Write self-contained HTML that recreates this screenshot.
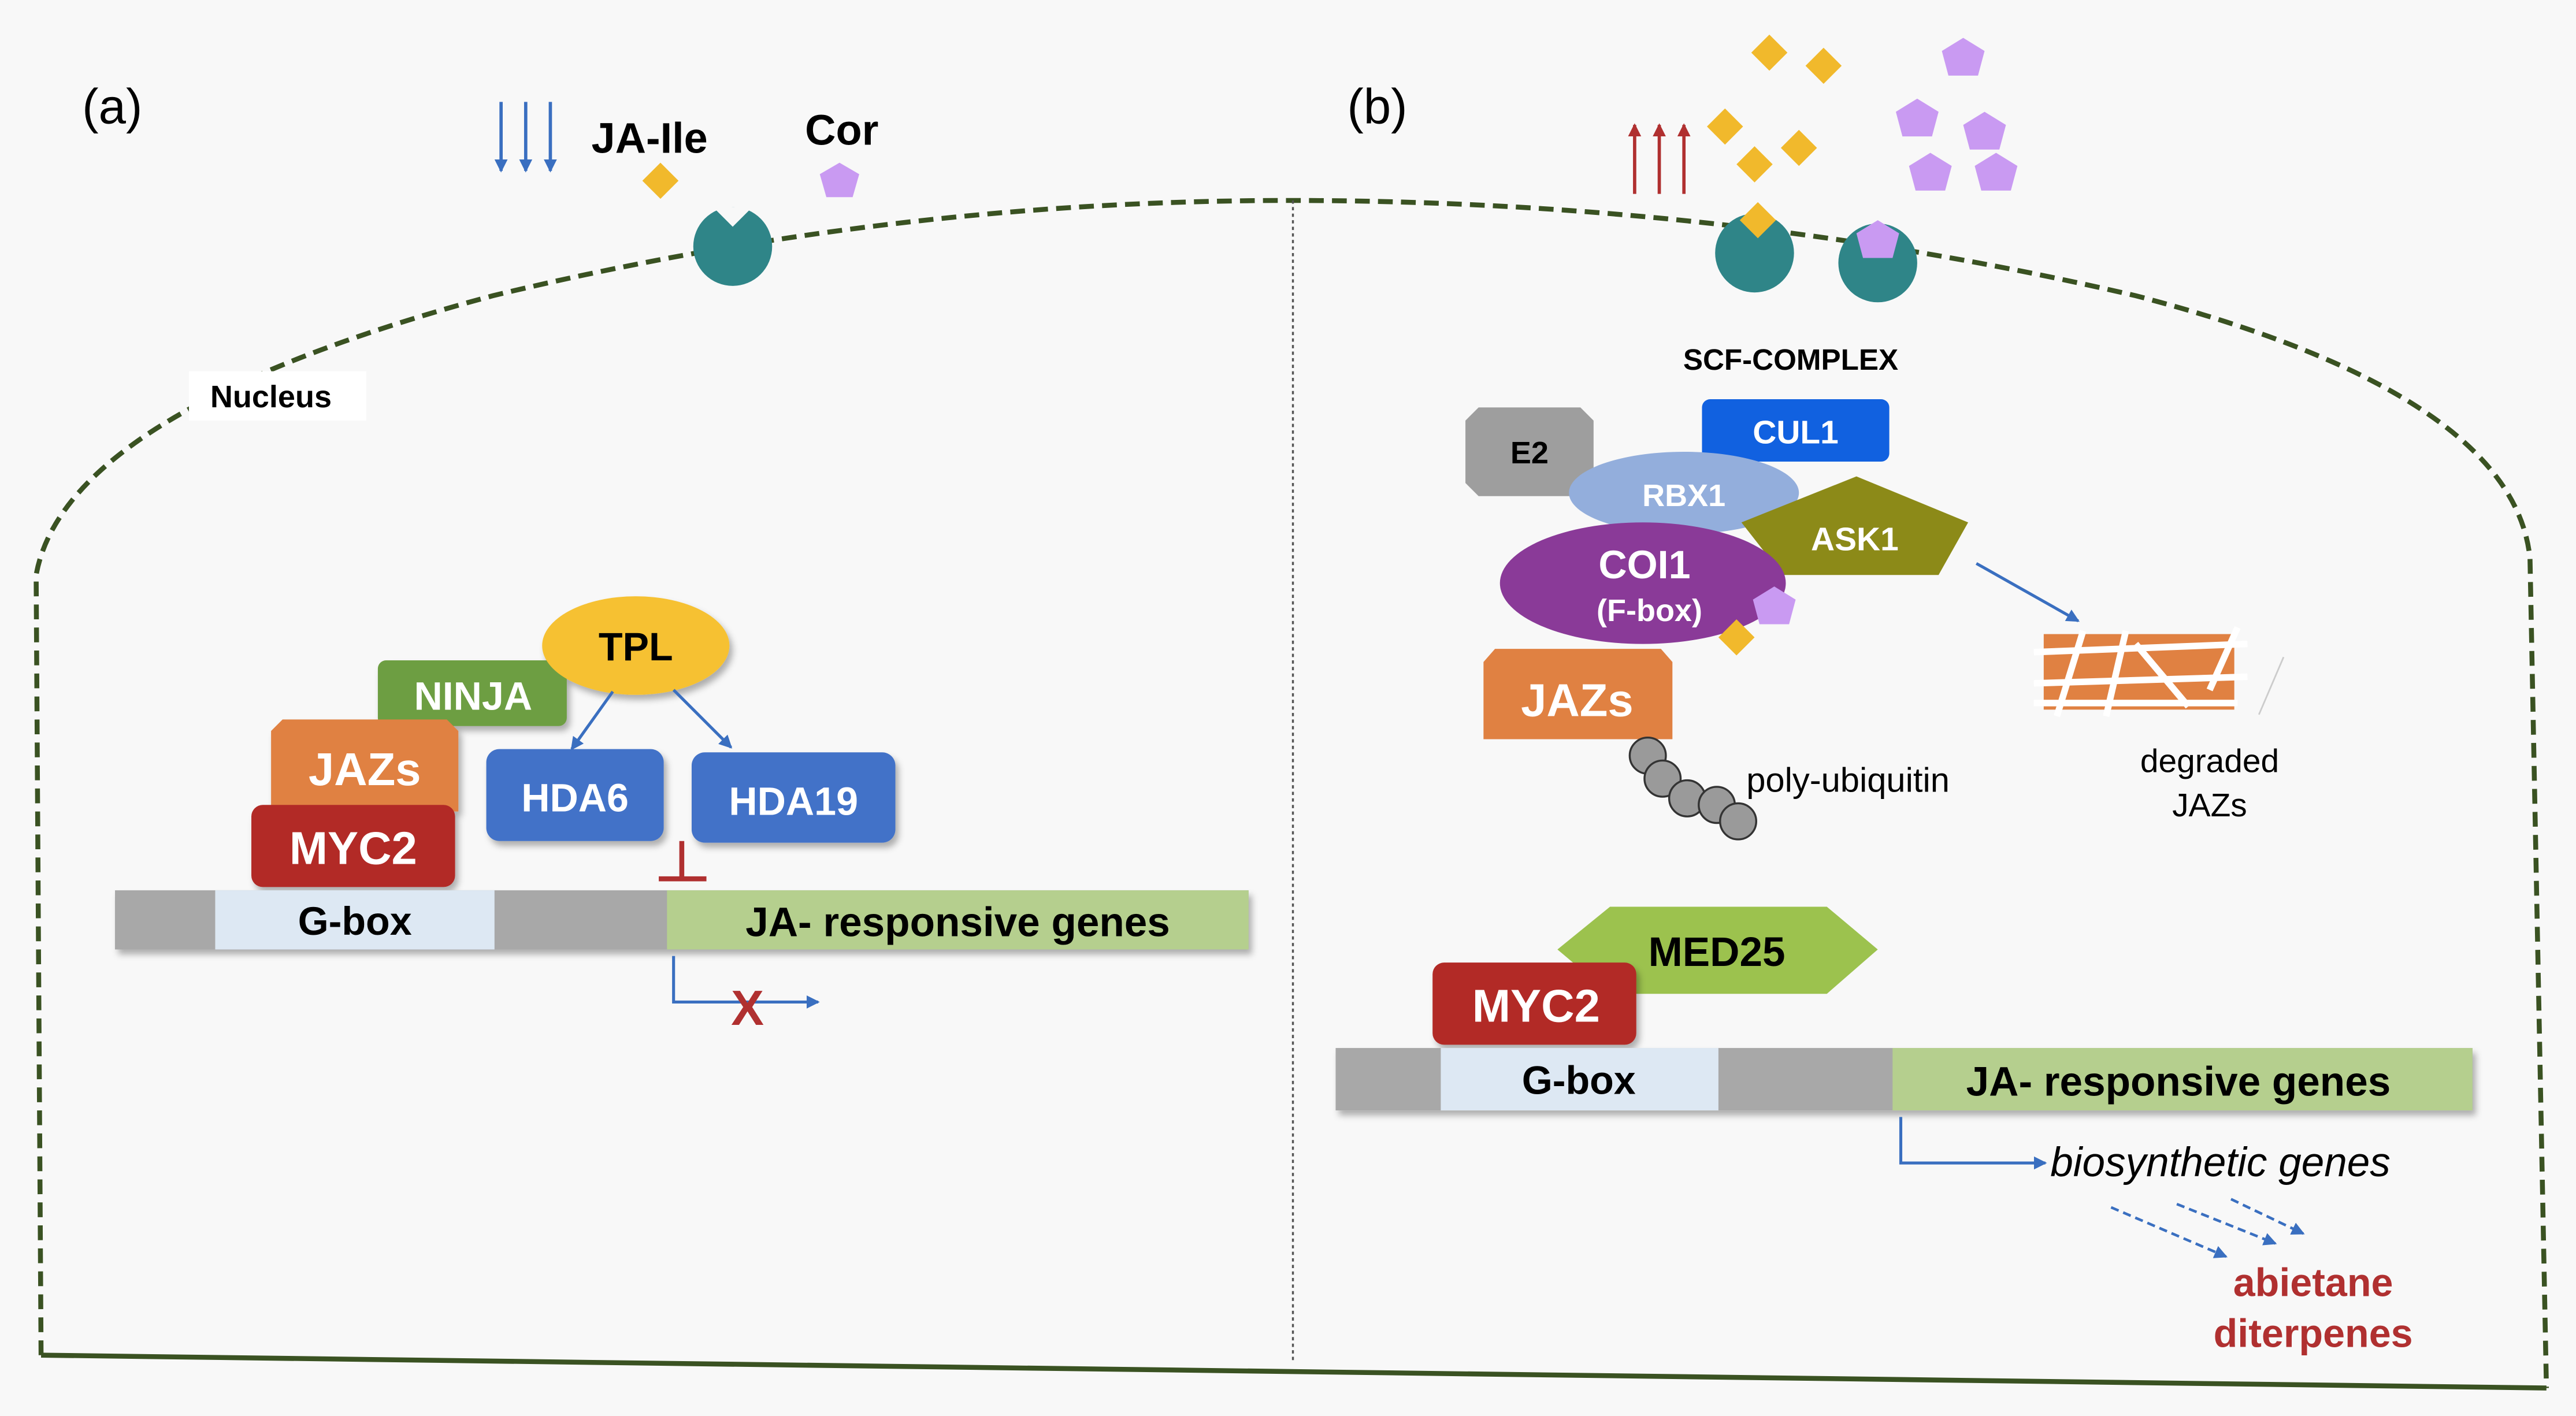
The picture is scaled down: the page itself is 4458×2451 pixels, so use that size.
<!DOCTYPE html>
<html><head><meta charset="utf-8"><style>html,body{margin:0;padding:0;background:#fff}svg{display:block}text{font-family:"Liberation Sans",Arial,sans-serif}</style></head><body>
<svg width="4458" height="2451" viewBox="0 0 1568 862" xmlns="http://www.w3.org/2000/svg">
<defs>
<marker id="ab" markerWidth="8" markerHeight="8" refX="7" refY="4" orient="auto" markerUnits="userSpaceOnUse"><path d="M0,0 L8,4 L0,8 z" fill="#3a6fc0"/></marker>
<marker id="ar" markerWidth="8" markerHeight="8" refX="7" refY="4" orient="auto" markerUnits="userSpaceOnUse"><path d="M0,0 L8,4 L0,8 z" fill="#b03030"/></marker>
<filter id="sh" x="-10%" y="-10%" width="130%" height="140%"><feDropShadow dx="2" dy="3" stdDeviation="2" flood-opacity="0.3"/></filter>
</defs>
<rect width="1568" height="862" fill="#f8f8f8"/>
<path d="M25,825 L22,350 Q40,250 300,180 Q540,122 785,122 Q1050,122 1300,180 Q1530,240 1540,340 L1550,845" fill="none" stroke="#3a5222" stroke-width="3" stroke-dasharray="9,5"/>
<line x1="25" y1="825" x2="1550" y2="845" stroke="#3a5222" stroke-width="3"/>
<line x1="787" y1="122" x2="787" y2="830" stroke="#555" stroke-width="1.2" stroke-dasharray="2,2"/>
<text x="50" y="75" font-size="30">(a)</text>
<text x="820" y="75" font-size="30">(b)</text>
<g stroke="#3a6fc0" stroke-width="2" marker-end="url(#ab)"><line x1="305" y1="62" x2="305" y2="104"/><line x1="320" y1="62" x2="320" y2="104"/><line x1="335" y1="62" x2="335" y2="104"/></g>
<text x="360" y="93" font-size="26" font-weight="bold">JA-Ile</text>
<text x="490" y="88" font-size="26" font-weight="bold">Cor</text>
<path d="M402,99 L413,110 L402,121 L391,110z" fill="#f1b92c"/>
<path d="M511,99 L523,106 L519,120 L503,120 L499,106z" fill="#c99af2"/>
<circle cx="446" cy="150" r="24" fill="#2f8588"/>
<path d="M434,126 L446,138 L458,126z" fill="#f8f8f8"/>
<rect x="115" y="226" width="108" height="30" fill="#fff"/>
<text x="128" y="248" font-size="19" font-weight="bold">Nucleus</text>
<g filter="url(#sh)">
<rect x="230" y="402" width="115" height="40" rx="5" fill="#6d9e42"/>
<path d="M172,438 L272,438 L279,445 L279,494 L165,494 L165,445z" fill="#e08142"/>
<rect x="153" y="490" width="124" height="50" rx="7" fill="#b22a26"/>
<rect x="296" y="456" width="108" height="56" rx="8" fill="#4272c8"/>
<rect x="421" y="458" width="124" height="55" rx="8" fill="#4272c8"/>
<ellipse cx="387" cy="393" rx="57" ry="30" fill="#f6c132"/>
</g>
<text x="288" y="432" font-size="24" font-weight="bold" fill="#fff" text-anchor="middle">NINJA</text>
<text x="222" y="478" font-size="28" font-weight="bold" fill="#fff" text-anchor="middle">JAZs</text>
<text x="215" y="526" font-size="28" font-weight="bold" fill="#fff" text-anchor="middle">MYC2</text>
<text x="350" y="494" font-size="24" font-weight="bold" fill="#fff" text-anchor="middle">HDA6</text>
<text x="483" y="496" font-size="24" font-weight="bold" fill="#fff" text-anchor="middle">HDA19</text>
<text x="387" y="402" font-size="24" font-weight="bold" text-anchor="middle">TPL</text>
<g stroke="#3a6fc0" stroke-width="1.8" marker-end="url(#ab)"><line x1="373" y1="421" x2="348" y2="456"/><line x1="410" y1="420" x2="445" y2="455"/></g>
<line x1="415" y1="512" x2="415" y2="534" stroke="#b03030" stroke-width="3"/>
<line x1="401" y1="535" x2="430" y2="535" stroke="#b03030" stroke-width="3"/>
<g filter="url(#sh)"><rect x="70" y="542" width="690" height="36" fill="#a8a8a8"/></g>
<rect x="131" y="542" width="170" height="36" fill="#dde8f3"/>
<rect x="406" y="542" width="354" height="36" fill="#b5cf8e"/>
<text x="216" y="569" font-size="24" font-weight="bold" text-anchor="middle">G-box</text>
<text x="583" y="570" font-size="25" font-weight="bold" text-anchor="middle">JA- responsive genes</text>
<path d="M410,582 L410,610 L498,610" fill="none" stroke="#3a6fc0" stroke-width="1.8" marker-end="url(#ab)"/>
<text x="455" y="624" font-size="30" font-weight="bold" fill="#b03030" text-anchor="middle">X</text>
<g stroke="#b03030" stroke-width="2" marker-end="url(#ar)"><line x1="995" y1="118" x2="995" y2="76"/><line x1="1010" y1="118" x2="1010" y2="76"/><line x1="1025" y1="118" x2="1025" y2="76"/></g>
<g fill="#f1b92c">
<path d="M1077,21 L1088,32 L1077,43 L1066,32z"/><path d="M1110,29 L1121,40 L1110,51 L1099,40z"/><path d="M1050,66 L1061,77 L1050,88 L1039,77z"/><path d="M1095,79 L1106,90 L1095,101 L1084,90z"/><path d="M1068,89 L1079,100 L1068,111 L1057,100z"/>
</g>
<g fill="#c99af2">
<path d="M1195,23 L1208,31 L1204,46 L1186,46 L1182,31z"/><path d="M1167,60 L1180,68 L1176,83 L1158,83 L1154,68z"/><path d="M1208,68 L1221,76 L1217,91 L1199,91 L1195,76z"/><path d="M1175,93 L1188,101 L1184,116 L1166,116 L1162,101z"/><path d="M1215,93 L1228,101 L1224,116 L1206,116 L1202,101z"/>
</g>
<circle cx="1068" cy="154" r="24" fill="#2f8588"/>
<circle cx="1143" cy="160" r="24" fill="#2f8588"/>
<path d="M1070,123 L1081,134 L1070,145 L1059,134z" fill="#f1b92c"/>
<path d="M1143,134 L1156,142 L1152,157 L1134,157 L1130,142z" fill="#c99af2"/>
<text x="1090" y="225" font-size="18" font-weight="bold" text-anchor="middle">SCF-COMPLEX</text>
<path d="M900,248 L962,248 L970,256 L970,294 L962,302 L900,302 L892,294 L892,256z" fill="#9e9e9e"/>
<text x="931" y="282" font-size="19" font-weight="bold" text-anchor="middle">E2</text>
<rect x="1036" y="243" width="114" height="38" rx="5" fill="#1161e0"/>
<text x="1093" y="270" font-size="20" font-weight="bold" fill="#fff" text-anchor="middle">CUL1</text>
<ellipse cx="1025" cy="300" rx="70" ry="25" fill="#93aedc"/>
<text x="1025" y="308" font-size="19" font-weight="bold" fill="#fff" text-anchor="middle">RBX1</text>
<path d="M1130,290 L1198,318 L1180,350 L1085,350 L1060,318z" fill="#8c8a18"/>
<text x="1129" y="335" font-size="20" font-weight="bold" fill="#fff" text-anchor="middle">ASK1</text>
<ellipse cx="1000" cy="355" rx="87" ry="37" fill="#8a3a98"/>
<text x="1001" y="352" font-size="24" font-weight="bold" fill="#fff" text-anchor="middle">COI1</text>
<text x="1004" y="378" font-size="19" font-weight="bold" fill="#fff" text-anchor="middle">(F-box)</text>
<path d="M1080,357 L1093,365 L1089,380 L1071,380 L1067,365z" fill="#c99af2"/>
<path d="M1057,377 L1068,388 L1057,399 L1046,388z" fill="#f1b92c"/>
<path d="M910,395 L1011,395 L1018,403 L1018,450 L903,450 L903,403z" fill="#e08142"/>
<text x="960" y="436" font-size="28" font-weight="bold" fill="#fff" text-anchor="middle">JAZs</text>
<g fill="#9a9a9a" stroke="#333" stroke-width="1.2">
<circle cx="1003" cy="460" r="11"/><circle cx="1012" cy="474" r="11"/><circle cx="1027" cy="486" r="11"/><circle cx="1045" cy="490" r="11"/><circle cx="1058" cy="500" r="11"/>
</g>
<text x="1063" y="482" font-size="21">poly-ubiquitin</text>
<line x1="1203" y1="343" x2="1265" y2="378" stroke="#3a6fc0" stroke-width="1.8" marker-end="url(#ab)"/>
<rect x="1244" y="386" width="116" height="46" fill="#e08142"/>
<g stroke="#fff" stroke-width="4">
<line x1="1238" y1="397" x2="1368" y2="392"/><line x1="1238" y1="416" x2="1368" y2="412"/><line x1="1238" y1="428" x2="1362" y2="428"/>
<line x1="1252" y1="436" x2="1268" y2="384"/><line x1="1282" y1="436" x2="1294" y2="384"/><line x1="1332" y1="430" x2="1300" y2="392"/><line x1="1345" y1="420" x2="1362" y2="382"/>
</g>
<line x1="1375" y1="435" x2="1390" y2="400" stroke="#ccc" stroke-width="1"/>
<text x="1345" y="470" font-size="20" text-anchor="middle">degraded</text>
<text x="1345" y="497" font-size="20" text-anchor="middle">JAZs</text>
<path d="M948,578 L980,552 L1112,552 L1143,578 L1112,605 L980,605z" fill="#9cc24e"/>
<text x="1045" y="588" font-size="25" font-weight="bold" text-anchor="middle">MED25</text>
<g filter="url(#sh)"><rect x="872" y="586" width="124" height="50" rx="7" fill="#b22a26"/></g>
<text x="935" y="622" font-size="28" font-weight="bold" fill="#fff" text-anchor="middle">MYC2</text>
<g filter="url(#sh)"><rect x="813" y="638" width="692" height="38" fill="#a8a8a8"/></g>
<rect x="877" y="638" width="169" height="38" fill="#dde8f3"/>
<rect x="1152" y="638" width="353" height="38" fill="#b5cf8e"/>
<text x="961" y="666" font-size="24" font-weight="bold" text-anchor="middle">G-box</text>
<text x="1326" y="667" font-size="25" font-weight="bold" text-anchor="middle">JA- responsive genes</text>
<path d="M1157,680 L1157,708 L1245,708" fill="none" stroke="#3a6fc0" stroke-width="1.8" marker-end="url(#ab)"/>
<text x="1248" y="716" font-size="25" font-style="italic">biosynthetic genes</text>
<g stroke="#3a6fc0" stroke-width="1.6" stroke-dasharray="5,3" marker-end="url(#ab)">
<line x1="1285" y1="735" x2="1355" y2="765"/><line x1="1325" y1="733" x2="1385" y2="757"/><line x1="1358" y1="730" x2="1402" y2="751"/>
</g>
<text x="1408" y="789" font-size="24" font-weight="bold" fill="#b03030" text-anchor="middle">abietane</text>
<text x="1408" y="820" font-size="24" font-weight="bold" fill="#b03030" text-anchor="middle">diterpenes</text>
</svg>
</body></html>
